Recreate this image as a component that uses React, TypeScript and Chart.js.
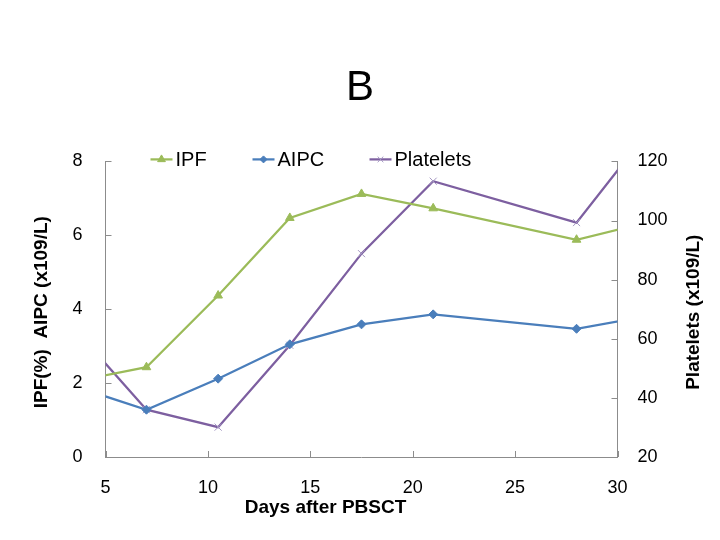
import React, { useEffect, useRef } from "react";
import { Chart, registerables } from "chart.js";
import { drawPoint } from "chart.js/helpers";

Chart.register(...registerables);

// ---- data ----
const days = [3.5, 7, 10.5, 14, 17.5, 21, 28, 31.5];
const ipf = [2.05, 2.43, 4.37, 6.47, 7.12, 6.73, 5.88, 6.35];
const aipc = [1.91, 1.28, 2.12, 3.05, 3.59, 3.86, 3.47, 3.82];
const platelets = [63.3, 36.0, 30.1, 57.8, 88.8, 113.3, 99.3, 130.1];

const seriesNames = ["IPF", "AIPC", "Platelets"];
const chartTitle = "B";
const xTitle = "Days after PBSCT";
const leftTitle = "IPF(%)  AIPC (x109/L)";
const rightTitle = "Platelets (x109/L)";
const xRange = [5, 30];
const leftRange = [0, 8];
const rightRange = [20, 120];

const FONT = "'Liberation Sans', Arial, sans-serif";
const GREEN = "#9BBB59";
const BLUE = "#4A7EBB";
const PURPLE = "#7D5FA0";
const PURPLE_MARK = "#A497C2";
const AXIS = "#8C8C8C";

const toPts = (ys: number[]) => days.map((d, i) => ({ x: d, y: ys[i] }));

const extrasPlugin = {
  id: "extras",
  afterDraw(chart: any) {
    const ctx = chart.ctx;
    const area = chart.chartArea;
    const sx = chart.scales.x;
    const sy = chart.scales.y;
    const sy1 = chart.scales.y1;
    ctx.save();
    // inward tick marks
    ctx.strokeStyle = AXIS;
    ctx.lineWidth = 1;
    ctx.beginPath();
    sx.ticks.forEach((t: any) => {
      const px = Math.round(sx.getPixelForValue(t.value)) + 0.5;
      ctx.moveTo(px, area.bottom);
      ctx.lineTo(px, area.bottom - 6);
    });
    sy.ticks.forEach((t: any) => {
      const py = Math.round(sy.getPixelForValue(t.value)) + 0.5;
      ctx.moveTo(area.left, py);
      ctx.lineTo(area.left + 6, py);
    });
    sy1.ticks.forEach((t: any) => {
      const py = Math.round(sy1.getPixelForValue(t.value)) + 0.5;
      ctx.moveTo(area.right, py);
      ctx.lineTo(area.right - 6, py);
    });
    ctx.stroke();

    // axis titles
    ctx.fillStyle = "#000";
    ctx.font = `bold 19px ${FONT}`;
    ctx.textAlign = "center";
    ctx.textBaseline = "middle";
    ctx.fillText(xTitle, area.left + 220, area.bottom + 51);
    ctx.save();
    ctx.translate(42, (area.top + area.bottom) / 2 + 3);
    ctx.rotate(-Math.PI / 2);
    ctx.fillText(leftTitle, 0, 0);
    ctx.restore();
    ctx.save();
    ctx.translate(694, (area.top + area.bottom) / 2 + 3);
    ctx.rotate(-Math.PI / 2);
    ctx.fillText(rightTitle, 0, 0);
    ctx.restore();

    // legend
    const items = [
      { off: 45, color: GREEN, style: "triangle", mark: GREEN, r: 4.5 },
      { off: 147, color: BLUE, style: "rectRot", mark: BLUE, r: 3.5 },
      { off: 264, color: PURPLE, style: "crossRot", mark: PURPLE_MARK, r: 4 },
    ];
    const ly = area.top - 2;
    items.forEach((it, i) => {
      const x0 = area.left + it.off;
      ctx.strokeStyle = it.color;
      ctx.lineWidth = 2.25;
      ctx.beginPath();
      ctx.moveTo(x0, ly);
      ctx.lineTo(x0 + 22, ly);
      ctx.stroke();
      ctx.fillStyle = it.mark;
      ctx.strokeStyle = it.mark;
      ctx.lineWidth = 1;
      drawPoint(ctx, { pointStyle: it.style, radius: it.r, rotation: 0, borderWidth: 1 }, x0 + 11, ly);
      ctx.fillStyle = "#000";
      ctx.font = `20px ${FONT}`;
      ctx.textAlign = "left";
      ctx.textBaseline = "middle";
      ctx.fillText(seriesNames[i], x0 + 25, ly + 1);
    });
    ctx.restore();
  },
};

export default function App() {
  const ref = useRef<HTMLCanvasElement | null>(null);
  useEffect(() => {
    document.body.style.margin = "0";
    const canvas = ref.current!;
    const chart = new Chart(canvas, {
      type: "line",
      data: {
        datasets: [
          {
            label: seriesNames[0],
            data: toPts(ipf),
            borderColor: GREEN,
            backgroundColor: GREEN,
            borderWidth: 2.25,
            pointStyle: "triangle",
            pointRadius: 5,
            pointBackgroundColor: GREEN,
            pointBorderColor: GREEN,
            pointBorderWidth: 1,
            yAxisID: "y",
            clip: 0,
          },
          {
            label: seriesNames[1],
            data: toPts(aipc),
            borderColor: BLUE,
            backgroundColor: BLUE,
            borderWidth: 2.25,
            pointStyle: "rectRot",
            pointRadius: 4.5,
            pointBackgroundColor: BLUE,
            pointBorderColor: BLUE,
            pointBorderWidth: 1,
            yAxisID: "y",
            clip: 0,
          },
          {
            label: seriesNames[2],
            data: toPts(platelets),
            borderColor: PURPLE,
            backgroundColor: PURPLE,
            borderWidth: 2.25,
            pointStyle: "crossRot",
            pointRadius: 5,
            pointBackgroundColor: PURPLE_MARK,
            pointBorderColor: PURPLE_MARK,
            pointBorderWidth: 1,
            yAxisID: "y1",
            clip: 0,
          },
        ],
      },
      options: {
        animation: false,
        responsive: false,
        maintainAspectRatio: false,
        layout: { padding: 0 },
        plugins: {
          legend: { display: false },
          tooltip: { enabled: false },
          title: {
            display: true,
            text: chartTitle,
            color: "#000",
            font: { family: FONT, size: 42, weight: "normal", lineHeight: 1.2 },
            padding: { top: 63, bottom: 48 },
          },
        },
        scales: {
          x: {
            type: "linear",
            min: xRange[0],
            max: xRange[1],
            position: "bottom",
            grid: { display: true, drawOnChartArea: false, drawTicks: false },
            border: { display: true, color: AXIS, width: 1 },
            ticks: {
              stepSize: 5,
              color: "#000",
              padding: 20,
              font: { family: FONT, size: 18 },
              maxRotation: 0,
            },
            afterFit: (s: any) => {
              s.height = 83;
            },
          },
          y: {
            type: "linear",
            position: "left",
            min: leftRange[0],
            max: leftRange[1],
            grid: { display: true, drawOnChartArea: false, drawTicks: false },
            border: { display: true, color: AXIS, width: 1 },
            ticks: {
              stepSize: 2,
              color: "#000",
              padding: 23,
              font: { family: FONT, size: 18 },
            },
            afterFit: (s: any) => {
              s.width = 105.5;
            },
          },
          y1: {
            type: "linear",
            position: "right",
            min: rightRange[0],
            max: rightRange[1],
            grid: { display: true, drawOnChartArea: false, drawTicks: false },
            border: { display: true, color: AXIS, width: 1 },
            ticks: {
              stepSize: 20,
              color: "#000",
              padding: 20,
              font: { family: FONT, size: 18 },
            },
            afterFit: (s: any) => {
              s.width = 102.5;
            },
          },
        },
      },
      plugins: [extrasPlugin],
    });
    return () => chart.destroy();
  }, []);
  return (
    <div style={{ width: 720, height: 540 }}>
      <canvas ref={ref} width={720} height={540} style={{ display: "block" }} />
    </div>
  );
}
